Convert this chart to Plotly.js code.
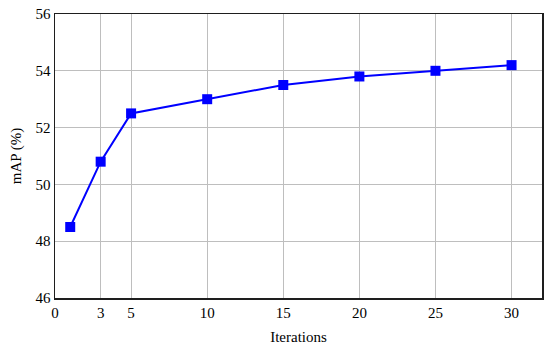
<!DOCTYPE html>
<html>
<head>
<meta charset="utf-8">
<script src="https://cdn.plot.ly/plotly-3.0.1.min.js"></script>
<style>
  body { margin: 0; }
  #chart { width: 550px; height: 348px; }
</style>
</head>
<body>
<div id="chart"></div>
<script>
const iterations = [1, 3, 5, 10, 15, 20, 25, 30];
const mapValues = [48.5, 50.8, 52.5, 53.0, 53.5, 53.8, 54.0, 54.2];
const xTicks = [0, 3, 5, 10, 15, 20, 25, 30];
const yTicks = [46, 48, 50, 52, 54, 56];

const series = {
  x: iterations,
  y: mapValues,
  type: 'scatter',
  mode: 'lines+markers',
  line: { color: 'rgb(0,0,255)', width: 2 },
  marker: { color: 'rgb(0,0,255)', symbol: 'square', size: 10 },
  showlegend: false
};

const layout = {
  width: 550,
  height: 348,
  margin: { l: 55, r: 8, t: 14, b: 50 },
  paper_bgcolor: 'white',
  plot_bgcolor: 'white',
  font: { family: 'Liberation Serif, serif', size: 15, color: 'black' },
  xaxis: {
    range: [0, 32],
    tickvals: xTicks,
    ticktext: xTicks.map(String),
    showgrid: true,
    gridcolor: 'rgb(190,190,190)',
    gridwidth: 1,
    zeroline: false,
    showline: true,
    linecolor: 'rgb(30,30,30)',
    linewidth: 1.5,
    mirror: true,
    ticks: '',
    title: { text: 'Iterations', standoff: 12, font: { size: 15 } }
  },
  yaxis: {
    range: [46, 56],
    tickvals: yTicks,
    showgrid: true,
    gridcolor: 'rgb(190,190,190)',
    gridwidth: 1,
    zeroline: false,
    showline: true,
    linecolor: 'rgb(30,30,30)',
    linewidth: 1.5,
    mirror: true,
    ticks: '',
    title: { text: 'mAP (%)', standoff: 10, font: { size: 15 } }
  }
};

Plotly.newPlot('chart', [series], layout, { displayModeBar: false, staticPlot: true });
</script>
</body>
</html>
